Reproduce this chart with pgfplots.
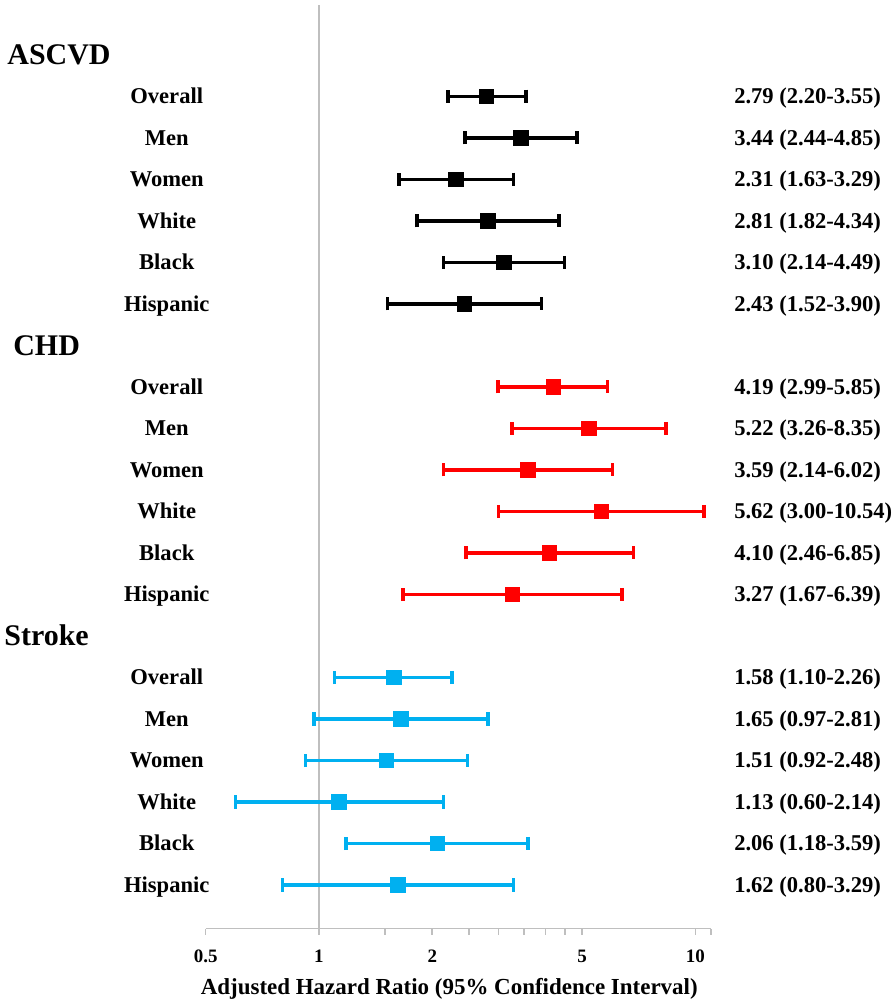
\documentclass[border=0pt]{standalone}
\usepackage{fontspec}
\setmainfont{Liberation Serif}
\usepackage{pgfplots}
\usepackage{pgfplotstable}
\pgfplotsset{compat=1.18}
\definecolor{strokeblue}{RGB}{0,176,240}
\definecolor{axisgray}{RGB}{191,191,191}
\tikzset{
  grp/.style={anchor=base west, inner sep=0pt, yshift=-4.97pt, font=\fontsize{15}{17}\selectfont\bfseries},
  lbl/.style={anchor=base, inner sep=0pt, yshift=-3.74pt, font=\fontsize{11.3}{13}\selectfont\bfseries},
  est/.style={anchor=base west, inner sep=0pt, yshift=-3.74pt, font=\fontsize{11.3}{13}\selectfont\bfseries},
}
\def\skipmark{X}

% y = -(row number), HR with 95% CI
\pgfplotstableread{
y    hr    lo    hi
-1   2.79  2.20  3.55
-2   3.44  2.44  4.85
-3   2.31  1.63  3.29
-4   2.81  1.82  4.34
-5   3.10  2.14  4.49
-6   2.43  1.52  3.90
}\ascvd
\pgfplotstableread{
y    hr    lo    hi
-8   4.19  2.99  5.85
-9   5.22  3.26  8.35
-10  3.59  2.14  6.02
-11  5.62  3.00  10.54
-12  4.10  2.46  6.85
-13  3.27  1.67  6.39
}\chd
\pgfplotstableread{
y    hr    lo    hi
-15  1.58  1.10  2.26
-16  1.65  0.97  2.81
-17  1.51  0.92  2.48
-18  1.13  0.60  2.14
-19  2.06  1.18  3.59
-20  1.62  0.80  3.29
}\stroke

\begin{document}
\begin{tikzpicture}
\begin{axis}[
    xmode=log,
    xmin=0.5, xmax=11,
    ymin=-21.05, ymax=1.2,
    width=253pt, height=462.5pt,
    scale only axis,
    clip=false,
    axis x line*=bottom,
    axis y line=none,
    x axis line style={axisgray, line width=0.8pt, -},
    xtick={0.5,1,2,5,10},
    xticklabels={0.5,1,2,5,10},
    minor xtick={1.5,2.5,3,3.5,4,4.5,11},
    tick align=outside,
    major tick length=3pt,
    minor tick length=3pt,
    every tick/.style={axisgray, line width=0.8pt},
    xticklabel style={font=\fontsize{9.5}{11}\selectfont\bfseries, yshift=-4pt},
    /pgf/number format/assume math mode=true,
    xlabel={Adjusted Hazard Ratio (95\% Confidence Interval)},
    xlabel style={font=\fontsize{11.5}{13}\selectfont\bfseries,
        at={(axis description cs:0.5,0)}, anchor=base, yshift=-33pt, xshift=-4.5pt},
    error bars/x dir=both,
    error bars/x explicit,
    error bars/error mark=|,
]
% reference line at HR = 1
\draw[axisgray, line width=0.8pt] (axis cs:1,-21.05) -- (axis cs:1,1.2);

\addplot[only marks, mark=square*, mark size=3.6pt, black,
    error bars/error bar style={line width=1.8pt, black},
    error bars/error mark options={line width=1.8pt, mark size=3.3pt, black}]
    table[x=hr, y=y,
      x error minus expr=\thisrow{hr}-\thisrow{lo},
      x error plus expr=\thisrow{hi}-\thisrow{hr}] {\ascvd};
\addplot[only marks, mark=square*, mark size=3.6pt, red,
    error bars/error bar style={line width=1.8pt, red},
    error bars/error mark options={line width=1.8pt, mark size=3.3pt, red}]
    table[x=hr, y=y,
      x error minus expr=\thisrow{hr}-\thisrow{lo},
      x error plus expr=\thisrow{hi}-\thisrow{hr}] {\chd};
\addplot[only marks, mark=square*, mark size=3.6pt, strokeblue,
    error bars/error bar style={line width=1.8pt, strokeblue},
    error bars/error mark options={line width=1.8pt, mark size=3.3pt, strokeblue}]
    table[x=hr, y=y,
      x error minus expr=\thisrow{hr}-\thisrow{lo},
      x error plus expr=\thisrow{hi}-\thisrow{hr}] {\stroke};

% group titles
\node[grp] at ([xshift=-99.5pt]axis cs:0.5,0) {ASCVD};
\node[grp] at ([xshift=-96.5pt]axis cs:0.5,-7) {CHD};
\node[grp] at ([xshift=-101pt]axis cs:0.5,-14) {Stroke};

% row labels
\foreach \g in {0,7,14} {
  \foreach \n [count=\i] in {Overall,Men,Women,White,Black,Hispanic} {
    \pgfmathtruncatemacro\yy{-\g-\i}
    \edef\temp{\noexpand\node[lbl] at ([xshift=-19.5pt]axis cs:0.5,\yy) {\n};}
    \temp
  }
}

% estimates
\foreach \t [count=\i] in {2.79 (2.20-3.55),3.44 (2.44-4.85),2.31 (1.63-3.29),2.81 (1.82-4.34),3.10 (2.14-4.49),2.43 (1.52-3.90),
    X,4.19 (2.99-5.85),5.22 (3.26-8.35),3.59 (2.14-6.02),5.62 (3.00-10.54),4.10 (2.46-6.85),3.27 (1.67-6.39),
    X,1.58 (1.10-2.26),1.65 (0.97-2.81),1.51 (0.92-2.48),1.13 (0.60-2.14),2.06 (1.18-3.59),1.62 (0.80-3.29)} {
  \ifx\t\skipmark\else
    \edef\temp{\noexpand\node[est] at ([xshift=11.5pt]axis cs:11,-\i) {\t};}
    \temp
  \fi
}

% picture frame matching the reference proportions
\path ([shift={(-103pt,-38pt)}]rel axis cs:0,0) rectangle ([shift={(90pt,2.5pt)}]rel axis cs:1,1);
\end{axis}
\end{tikzpicture}
\end{document}
